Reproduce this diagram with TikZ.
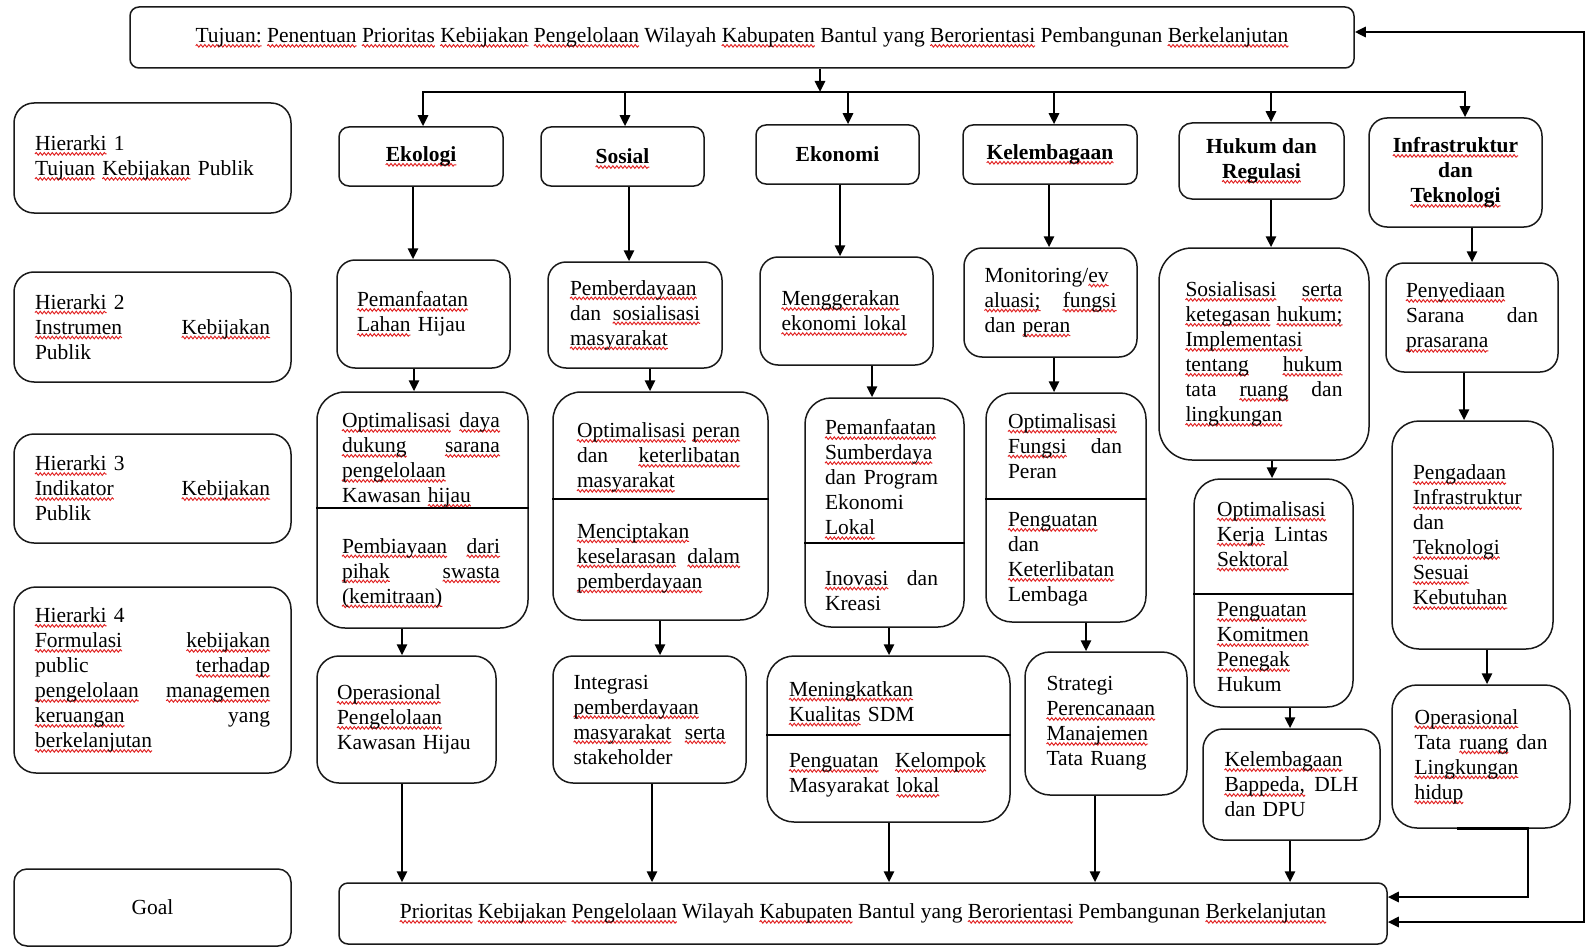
\documentclass[tikz,border=0pt]{standalone}
\usepackage{fontspec}
\setmainfont{Liberation Serif}
\usetikzlibrary{arrows.meta,decorations.pathmorphing}
\definecolor{wavered}{RGB}{225,35,35}
\definecolor{bordercol}{RGB}{25,25,25}
\newsavebox\wavebox
\newcommand\wv[1]{\leavevmode\sbox\wavebox{#1}\edef\wavelen{\the\wd\wavebox}\rlap{\tikz[overlay,baseline=0pt]{\draw[wavy] (0pt,-3.2pt) -- (\wavelen,-3.2pt);}}\usebox\wavebox}
\newcommand\lnJ[1]{\leavevmode\makebox[\linewidth][s]{\spaceskip=0.25em plus 200pt\xspaceskip=0.25em plus 200pt #1}}
\newcommand\lnL[1]{\leavevmode\makebox[\linewidth][l]{#1}}
\newcommand\fsz{\fontsize{21.5}{25}\selectfont}
\newcommand\varr[3]{\draw[arr] (#1.south -| #3,0) -- (#2.north -| #3,0);}
\tikzset{
  wavy/.style={draw=wavered, line width=0.95pt, sharp corners, decorate,
    decoration={snake, amplitude=1.3pt, segment length=4pt}},
  bx/.style={draw=bordercol, line width=1.5pt, rounded corners=#1, inner sep=0pt, font=\fsz, align=left},
  bx/.default=18pt,
  hd/.style={bx=#1, font=\fsz\bfseries, align=center},
  hd/.default=10pt,
  tx/.style={inner sep=0pt, font=\fsz, align=left},
  arr/.style={draw=black, line width=2.6pt, -{Triangle[length=11pt,width=10pt]}},
  arrboth/.style={draw=black, line width=2.6pt, {Triangle[length=11pt,width=10pt]}-{Triangle[length=11pt,width=10pt]}},
  busline/.style={draw=black, line width=2.6pt, line cap=rect},
  dv/.style={draw=black, line width=2.4pt},
}
\begin{document}
\begin{tikzpicture}[x=1pt,y=-1pt]
\useasboundingbox (0,0) rectangle (1587,947);
\fill[white] (0,0) rectangle (1587,947);

% ---------- left column ----------
\node[bx=20pt, minimum width=277pt, minimum height=110pt, text width=235pt] (h1) at (152.5,158)
 {\wv{Hierarki} 1\\\wv{Tujuan} \wv{Kebijakan} Publik};
\node[bx=20pt, minimum width=277pt, minimum height=110pt, text width=235pt] (h2) at (152.5,327)
 {\wv{Hierarki} 2\\\lnJ{\wv{Instrumen} \wv{Kebijakan}}\\Publik};
\node[bx=20pt, minimum width=277pt, minimum height=109pt, text width=235pt] (h3) at (152.5,488.5)
 {\wv{Hierarki} 3\\\lnJ{\wv{Indikator} \wv{Kebijakan}}\\Publik};
\node[bx=22pt, minimum width=277pt, minimum height=186pt, text width=235pt] (h4) at (152.5,680)
 {\wv{Hierarki} 4\\\lnJ{\wv{Formulasi} \wv{kebijakan}}\\\lnJ{public \wv{terhadap}}\\\lnJ{\wv{pengelolaan} \wv{managemen}}\\\lnJ{\wv{keruangan} yang}\\\wv{berkelanjutan}};
\node[bx=13pt, minimum width=277pt, minimum height=77pt, align=center] (goal) at (152.5,907.5) {Goal};

% ---------- top and bottom ----------
\node[bx=9pt, minimum width=1224pt, minimum height=61pt] (top) at (742,37.5)
 {\wv{Tujuan:} \wv{Penentuan} \wv{Prioritas} \wv{Kebijakan} \wv{Pengelolaan} Wilayah \wv{Kabupaten} Bantul yang \wv{Berorientasi} Pembangunan \wv{Berkelanjutan}};
\node[bx=9pt, minimum width=1048pt, minimum height=61pt] (prio) at (863,913.5)
 {\wv{Prioritas} \wv{Kebijakan} \wv{Pengelolaan} Wilayah \wv{Kabupaten} Bantul yang \wv{Berorientasi} Pembangunan \wv{Berkelanjutan}};

% ---------- level 1 ----------
\node[hd=10pt, minimum width=164pt, minimum height=59pt] (eko) at (421,156.5) {\wv{Ekologi}};
\node[hd=10pt, minimum width=163pt, minimum height=59pt] (sos) at (622.5,156.5) {\wv{Sosial}};
\node[hd=10pt, minimum width=163pt, minimum height=59pt] (ekn) at (837.5,154.5) {Ekonomi};
\node[hd=10pt, minimum width=174pt, minimum height=59pt] (kel) at (1050,154.5) {\wv{Kelembagaan}};
\node[hd=13pt, minimum width=165pt, minimum height=76pt] (huk) at (1261.5,161) {Hukum dan\\\wv{Regulasi}};
\node[hd=18pt, minimum width=173pt, minimum height=109pt] (inf) at (1455.5,172.5) {\wv{Infrastruktur}\\dan\\\wv{Teknologi}};

% ---------- level 2 ----------
\node[bx=18pt, minimum width=173pt, minimum height=108pt, text width=133pt] (pem) at (423.5,314)
 {\wv{Pemanfaatan}\\\wv{Lahan} Hijau};
\node[bx=18pt, minimum width=174pt, minimum height=106pt, text width=130pt] (pbd) at (635,315)
 {\wv{Pemberdayaan}\\\lnJ{dan \wv{sosialisasi}}\\\wv{masyarakat}};
\node[bx=18pt, minimum width=173pt, minimum height=108pt, text width=130pt] (mgk) at (846.5,311)
 {\wv{Menggerakan}\\\wv{ekonomi lokal}};
\node[bx=18pt, minimum width=173pt, minimum height=109pt, text width=132pt] (mon) at (1050.5,302.5)
 {\lnL{Monitoring/\wv{ev}}\\\lnJ{\wv{aluasi;} \wv{fungsi}}\\dan \wv{peran}};
\node[bx=33pt, minimum width=210pt, minimum height=212pt, text width=157pt] (sls) at (1264,354)
 {\lnJ{\wv{Sosialisasi} \wv{serta}}\\\lnJ{\wv{ketegasan} \wv{hukum;}}\\\wv{Implementasi}\\\lnJ{\wv{tentang} \wv{hukum}}\\\lnJ{tata \wv{ruang} dan}\\\wv{lingkungan}};
\node[bx=18pt, minimum width=172pt, minimum height=109pt, text width=132pt] (pny) at (1472,317.5)
 {\wv{Penyediaan}\\\lnJ{Sarana dan}\\\wv{prasarana}};

% ---------- level 3 ----------
\node[bx=28pt, minimum width=211pt, minimum height=236pt] (e3) at (422.5,510) {};
\node[tx, text width=158pt] (e3a) at (421,460)
 {\lnJ{\wv{Optimalisasi} \wv{daya}}\\\lnJ{\wv{dukung} \wv{sarana}}\\\wv{pengelolaan}\\Kawasan \wv{hijau}};
\node[tx, text width=158pt] (e3b) at (421,573)
 {\lnJ{\wv{Pembiayaan} \wv{dari}}\\\lnJ{\wv{pihak} \wv{swasta}}\\\wv{(kemitraan)}};
\draw[dv] (e3.west |- 0,508) -- (e3.east |- 0,508);

\node[bx=28pt, minimum width=215pt, minimum height=228pt] (s3) at (660.5,506) {};
\node[tx, text width=163pt] (s3a) at (658.5,457.5)
 {\lnJ{\wv{Optimalisasi} \wv{peran}}\\\lnJ{dan \wv{keterlibatan}}\\\wv{masyarakat}};
\node[tx, text width=163pt] (s3b) at (658.5,558)
 {\wv{Menciptakan}\\\lnJ{\wv{keselarasan} \wv{dalam}}\\\wv{pemberdayaan}};
\draw[dv] (s3.west |- 0,499) -- (s3.east |- 0,499);

\node[bx=26pt, minimum width=159pt, minimum height=229pt] (n3) at (884.5,512.5) {};
\node[tx, text width=113pt] (n3a) at (881.5,477.5)
 {\lnL{\wv{Pemanfaatan}}\\\lnL{\wv{Sumberdaya}}\\\lnJ{dan Program}\\Ekonomi\\\wv{Lokal}};
\node[tx, text width=113pt] (n3b) at (881.5,590.5)
 {\lnJ{\wv{Inovasi} dan}\\Kreasi};
\draw[dv] (n3.west |- 0,543) -- (n3.east |- 0,543);

\node[bx=26pt, minimum width=160pt, minimum height=229pt] (k3) at (1066,507.5) {};
\node[tx, text width=114pt] (k3a) at (1065,446)
 {\lnL{\wv{Optimalisasi}}\\\lnJ{\wv{Fungsi} dan}\\Peran};
\node[tx, text width=114pt] (k3b) at (1065,559.5)
 {\wv{Penguatan}\\dan\\\lnL{\wv{Keterlibatan}}\\Lembaga};
\draw[dv] (k3.west |- 0,499) -- (k3.east |- 0,499);

\node[bx=26pt, minimum width=159pt, minimum height=228pt] (u3) at (1273.5,593) {};
\node[tx, text width=111pt] (u3a) at (1272.5,534)
 {\lnL{\wv{Optimalisasi}}\\\lnJ{\wv{Kerja} Lintas}\\\wv{Sektoral}};
\node[tx, text width=111pt] (u3b) at (1272.5,647.5)
 {\wv{Penguatan}\\\wv{Komitmen}\\\wv{Penegak}\\Hukum};
\draw[dv] (u3.west |- 0,594) -- (u3.east |- 0,594);

\node[bx=27pt, minimum width=161pt, minimum height=228pt, text width=119pt] (pgd) at (1472.5,535)
 {\wv{Pengadaan}\\\lnL{\wv{Infrastruktur}}\\dan\\\wv{Teknologi}\\\wv{Sesuai}\\\wv{Kebutuhan}};

% ---------- level 4 ----------
\node[bx=22pt, minimum width=179pt, minimum height=127pt, text width=139pt] (opk) at (406.5,719.5)
 {\wv{Operasional}\\\wv{Pengelolaan}\\\lnL{Kawasan Hijau}};
\node[bx=20pt, minimum width=193pt, minimum height=127pt, text width=152pt] (itg) at (649.5,719.5)
 {Integrasi\\\wv{pemberdayaan}\\\lnJ{\wv{masyarakat} \wv{serta}}\\stakeholder};
\node[bx=27pt, minimum width=243pt, minimum height=166pt] (mkt) at (888.5,739) {};
\node[tx, text width=197pt] (mkta) at (887.5,701.5)
 {\wv{Meningkatkan}\\\wv{Kualitas} SDM};
\node[tx, text width=197pt] (mktb) at (887.5,775)
 {\lnJ{\wv{Penguatan} \wv{Kelompok}}\\Masyarakat \wv{lokal}};
\draw[dv] (mkt.west |- 0,735) -- (mkt.east |- 0,735);
\node[bx=25pt, minimum width=162pt, minimum height=143pt, text width=119pt] (stg) at (1106,723.5)
 {Strategi\\\lnL{\wv{Perencanaan}}\\\wv{Manajemen}\\Tata Ruang};
\node[bx=20pt, minimum width=177pt, minimum height=111pt, text width=134pt] (kbp) at (1291.5,784.5)
 {\wv{Kelembagaan}\\\lnJ{\wv{Bappeda,} DLH}\\dan DPU};
\node[bx=25pt, minimum width=178pt, minimum height=143pt, text width=133pt] (otr) at (1481,756.5)
 {\wv{Operasional}\\\lnJ{Tata \wv{ruang} dan}\\\wv{Lingkungan}\\\wv{hidup}};

% ---------- connectors ----------
\coordinate (bj) at (820,92);
\coordinate (b1) at (423,92);
\coordinate (b2) at (625,92);
\coordinate (b3) at (848,92);
\coordinate (b4) at (1054,92);
\coordinate (b5) at (1271,92);
\coordinate (b6) at (1465,92);
\draw[busline] (b1) -- (b6);
\draw[arr] (top.south -| bj) -- (bj);
\draw[arr] (b1) -- (eko.north -| b1);
\draw[arr] (b2) -- (sos.north -| b2);
\draw[arr] (b3) -- (ekn.north -| b3);
\draw[arr] (b4) -- (kel.north -| b4);
\draw[arr] (b5) -- (huk.north -| b5);
\draw[arr] (b6) -- (inf.north -| b6);

\varr{eko}{pem}{413}
\varr{sos}{pbd}{629}
\varr{ekn}{mgk}{840}
\varr{kel}{mon}{1049}
\varr{huk}{sls}{1271}
\varr{inf}{pny}{1472}

\varr{pem}{e3}{414}
\varr{pbd}{s3}{650}
\varr{mgk}{n3}{872}
\varr{mon}{k3}{1054}
\varr{sls}{u3}{1272}
\varr{pny}{pgd}{1464}

\varr{e3}{opk}{402}
\varr{s3}{itg}{660}
\varr{n3}{mkt}{889}
\varr{k3}{stg}{1086}
\varr{u3}{kbp}{1290}
\varr{pgd}{otr}{1487}

\varr{opk}{prio}{402}
\varr{itg}{prio}{652}
\varr{mkt}{prio}{889}
\varr{stg}{prio}{1095}
\varr{kbp}{prio}{1290}

\coordinate (oc) at (1528,897);
\draw[arr] (otr.south -| 1457,0) -- (otr.south -| oc) -- (oc) -- (prio.east |- oc);

\coordinate (fb1) at (1584,922);
\coordinate (fb2) at (1584,32);
\draw[arrboth] (prio.east |- fb1) -- (fb1) -- (fb2) -- (top.east |- fb2);
\end{tikzpicture}
\end{document}
